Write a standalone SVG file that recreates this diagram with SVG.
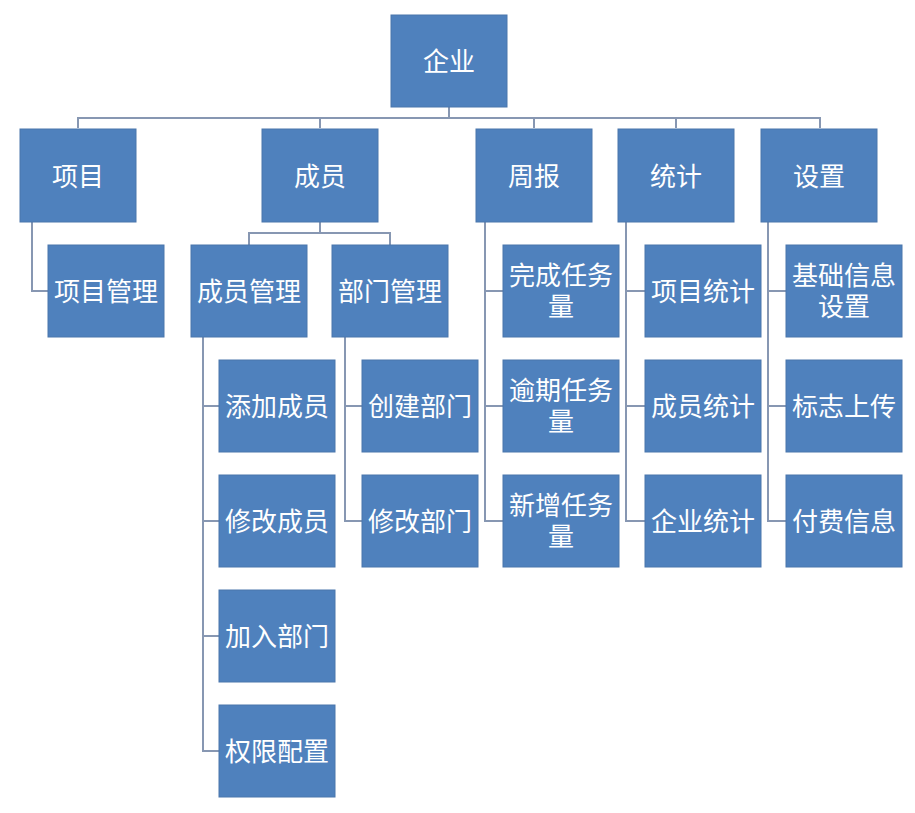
<svg xmlns="http://www.w3.org/2000/svg" width="915" height="813" viewBox="0 0 915 813">
<style>
.b{fill:#4F81BD;stroke:#4A76AC;stroke-width:1}
.t{fill:#FFFFFF;font-family:"Noto Sans CJK SC","Noto Sans",sans-serif;font-size:26px;text-anchor:middle;dominant-baseline:central}
.c{fill:none;stroke:#8797B2;stroke-width:2}
</style>
<rect width="915" height="813" fill="#FFFFFF"/>
<g id="connectors">
<path class="c" d="M449,107V118M78,128V118H820V128M320,118V128M534,118V128M676,118V128"/>
<path class="c" d="M32,222V291H48"/>
<path class="c" d="M320,222V233M249,245V233H390V245"/>
<path class="c" d="M203,337V751H219M203,406H219M203,521H219M203,636H219"/>
<path class="c" d="M345,337V521H362M345,406H362"/>
<path class="c" d="M485,222V521H503M485,291H503M485,406H503"/>
<path class="c" d="M626,222V521H645M626,291H645M626,406H645"/>
<path class="c" d="M768,222V521H786M768,291H786M768,406H786"/>
</g>
<g id="n-qiye"><rect class="b" x="391" y="15" width="116" height="92"/><text class="t" x="449" y="59">企业</text></g>
<g id="n-xiangmu"><rect class="b" x="20" y="129" width="116" height="93"/><text class="t" x="78" y="174">项目</text></g>
<g id="n-chengyuan"><rect class="b" x="262" y="129" width="116" height="93"/><text class="t" x="320" y="174">成员</text></g>
<g id="n-zhoubao"><rect class="b" x="476" y="129" width="116" height="93"/><text class="t" x="534" y="174">周报</text></g>
<g id="n-tongji"><rect class="b" x="618" y="129" width="116" height="93"/><text class="t" x="676" y="174">统计</text></g>
<g id="n-shezhi"><rect class="b" x="761" y="129" width="116" height="93"/><text class="t" x="819" y="174">设置</text></g>
<g id="n-xmgl"><rect class="b" x="48" y="245" width="116" height="92"/><text class="t" x="106" y="289">项目管理</text></g>
<g id="n-cygl"><rect class="b" x="191" y="245" width="116" height="92"/><text class="t" x="249" y="289">成员管理</text></g>
<g id="n-bmgl"><rect class="b" x="332" y="245" width="116" height="92"/><text class="t" x="390" y="289">部门管理</text></g>
<g id="n-wcrwl"><rect class="b" x="503" y="245" width="116" height="92"/><text class="t" x="561" y="273">完成任务<tspan x="561" dy="31">量</tspan></text></g>
<g id="n-xmtj"><rect class="b" x="645" y="245" width="116" height="92"/><text class="t" x="703" y="289">项目统计</text></g>
<g id="n-jcxx"><rect class="b" x="786" y="245" width="116" height="92"/><text class="t" x="844" y="273">基础信息<tspan x="844" dy="31">设置</tspan></text></g>
<g id="n-tjcy"><rect class="b" x="219" y="360" width="116" height="92"/><text class="t" x="277" y="404">添加成员</text></g>
<g id="n-cjbm"><rect class="b" x="362" y="360" width="116" height="92"/><text class="t" x="420" y="404">创建部门</text></g>
<g id="n-yqrwl"><rect class="b" x="503" y="360" width="116" height="92"/><text class="t" x="561" y="388">逾期任务<tspan x="561" dy="31">量</tspan></text></g>
<g id="n-cytj"><rect class="b" x="645" y="360" width="116" height="92"/><text class="t" x="703" y="404">成员统计</text></g>
<g id="n-bzsc"><rect class="b" x="786" y="360" width="116" height="92"/><text class="t" x="844" y="404">标志上传</text></g>
<g id="n-xgcy"><rect class="b" x="219" y="475" width="116" height="92"/><text class="t" x="277" y="519">修改成员</text></g>
<g id="n-xgbm"><rect class="b" x="362" y="475" width="116" height="92"/><text class="t" x="420" y="519">修改部门</text></g>
<g id="n-xzrwl"><rect class="b" x="503" y="475" width="116" height="92"/><text class="t" x="561" y="503">新增任务<tspan x="561" dy="31">量</tspan></text></g>
<g id="n-qytj"><rect class="b" x="645" y="475" width="116" height="92"/><text class="t" x="703" y="519">企业统计</text></g>
<g id="n-ffxx"><rect class="b" x="786" y="475" width="116" height="92"/><text class="t" x="844" y="519">付费信息</text></g>
<g id="n-jrbm"><rect class="b" x="219" y="590" width="116" height="92"/><text class="t" x="277" y="634">加入部门</text></g>
<g id="n-qxpz"><rect class="b" x="219" y="705" width="116" height="92"/><text class="t" x="277" y="749">权限配置</text></g>
</svg>
